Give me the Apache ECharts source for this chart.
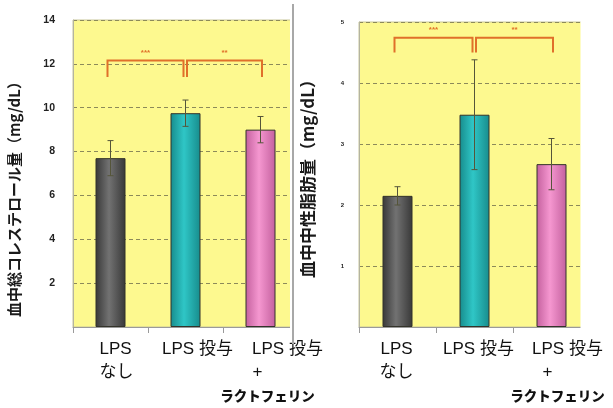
<!DOCTYPE html>
<html>
<head>
<meta charset="utf-8">
<script src="https://cdn.jsdelivr.net/npm/echarts@6/dist/echarts.min.js"></script>
<style>
  html, body { margin: 0; padding: 0; background: #ffffff; }
  #chart { width: 613px; height: 408px; }
</style>
</head>
<body>
<div id="chart"></div>
<script>
// Groups shown on both panels
const categories = ['LPS\nなし', 'LPS 投与', 'LPS 投与\n+\nラクトフェリン'];

// Total cholesterol in blood (mg/dL): mean and error
const cholMean = [7.7, 9.75, 9.0];
const cholErr = [0.8, 0.6, 0.6];

// Triglyceride in blood (mg/dL): mean and error
const tgMean = [2.15, 3.48, 2.67];
const tgErr = [0.15, 0.9, 0.42];

// Significance brackets: [from group, to group, bracket level, end level]
const cholBrackets = [[0, 1, 12.15, 11.4], [1, 2, 12.15, 11.4]];
const tgBrackets = [[0, 1, 4.74, 4.5], [1, 2, 4.74, 4.5]];
const sigLabels = ['***', '**'];

// Axis ranges and tick steps
const cholAxis = { min: 0, max: 14, interval: 2 };
const tgAxis = { min: 0, max: 5, interval: 1 };

const YELLOW = '#fdf98f';
const GRID_LINE = '#8c8a5a';
const BRACKET = '#e0702a';
const LABEL_FONT = '"Liberation Sans", "Noto Sans CJK JP", sans-serif';
const CJK_FONT = '"Noto Sans CJK JP", sans-serif';

function barGradient(edge, mid) {
  return new echarts.graphic.LinearGradient(0, 0, 1, 0, [
    { offset: 0, color: edge },
    { offset: 0.45, color: mid },
    { offset: 1, color: edge }
  ]);
}
const barColors = [
  barGradient('#383838', '#727272'),
  barGradient('#178c8c', '#2fc6c6'),
  barGradient('#c4609e', '#f597d0')
];

// per-line horizontal nudges for the group labels under each panel
function labelRich(shifts) {
  const rich = {};
  shifts.forEach((lines, i) => {
    lines.forEach((s, k) => {
      const heavy = (i === 2 && k === 2);
      rich['c' + i + '_' + k] = {
        fontFamily: heavy ? CJK_FONT : LABEL_FONT,
        fontSize: heavy ? 13.5 : 17,
        fontWeight: heavy ? 900 : 'normal',
        color: '#111',
        lineHeight: 23,
        padding: s >= 0 ? [0, 0, 0, 2 * s] : [0, -2 * s, 0, 0]
      };
    });
  });
  return rich;
}
function labelFormatter(value, index) {
  return value.split('\n').map((line, k) => '{c' + index + '_' + k + '|' + line + '}').join('\n');
}

function xAxisFor(gridIndex, shifts) {
  return {
    type: 'category', gridIndex: gridIndex, data: categories,
    axisLine: { show: true, lineStyle: { color: '#9a9a9a', width: 1 } },
    axisTick: { show: true, length: 6, lineStyle: { color: '#9a9a9a' } },
    axisLabel: {
      interval: 0, margin: 11, formatter: labelFormatter, rich: labelRich(shifts)
    }
  };
}

function yAxisFor(gridIndex, range, name, nameSize, nameGap, namePad, labelSize, labelMargin) {
  return {
    type: 'value', gridIndex: gridIndex,
    min: range.min, max: range.max, interval: range.interval,
    name: name, nameLocation: 'middle', nameRotate: 90, nameGap: nameGap,
    nameTextStyle: {
      fontFamily: CJK_FONT, fontSize: nameSize, fontWeight: 'bold', color: '#1a1a1a',
      padding: namePad
    },
    axisLine: { show: true, lineStyle: { color: '#b4b4a0' } },
    axisTick: { show: false },
    axisLabel: {
      margin: labelMargin, fontFamily: '"Liberation Sans", Arial, sans-serif',
      fontSize: labelSize, fontWeight: 'bold', color: '#222',
      formatter: v => (v === 0 ? '' : String(v))
    },
    splitLine: { show: true, lineStyle: { color: GRID_LINE, type: [4, 3], width: 1 } }
  };
}

function barSeries(axisIndex, means) {
  return {
    type: 'bar', xAxisIndex: axisIndex, yAxisIndex: axisIndex, barWidth: 30,
    data: means.map((v, i) => ({
      value: v,
      itemStyle: { color: barColors[i], borderColor: '#33332a', borderWidth: 1 }
    })),
    z: 2
  };
}

function errorSeries(axisIndex, means, errs) {
  return {
    type: 'custom', xAxisIndex: axisIndex, yAxisIndex: axisIndex, z: 5,
    data: means.map((m, i) => [i, m - errs[i], m + errs[i]]),
    renderItem(params, api) {
      const lo = api.coord([api.value(0), api.value(1)]);
      const hi = api.coord([api.value(0), api.value(2)]);
      const cap = 3;
      const st = { stroke: '#55553a', lineWidth: 1 };
      return {
        type: 'group',
        children: [
          { type: 'line', shape: { x1: hi[0], y1: hi[1], x2: lo[0], y2: lo[1] }, style: st },
          { type: 'line', shape: { x1: hi[0] - cap, y1: hi[1], x2: hi[0] + cap, y2: hi[1] }, style: st },
          { type: 'line', shape: { x1: lo[0] - cap, y1: lo[1], x2: lo[0] + cap, y2: lo[1] }, style: st }
        ]
      };
    }
  };
}

function bracketSeries(axisIndex, brackets) {
  return {
    type: 'custom', xAxisIndex: axisIndex, yAxisIndex: axisIndex, z: 6,
    data: brackets,
    renderItem(params, api) {
      const i = params.dataIndex;
      const a = api.coord([api.value(0), api.value(2)]);
      const b = api.coord([api.value(1), api.value(2)]);
      const yEnd = api.coord([api.value(0), api.value(3)])[1];
      const x1 = a[0] + (i === 0 ? -3 : 1.5);
      const x2 = b[0] + (i === 0 ? -2 : 1.5);
      return {
        type: 'group',
        children: [
          {
            type: 'polyline',
            shape: { points: [[x1, yEnd], [x1, a[1]], [x2, a[1]], [x2, yEnd]] },
            style: { stroke: BRACKET, lineWidth: 2, fill: null }
          },
          {
            type: 'text',
            style: {
              x: (x1 + x2) / 2, y: a[1] - 8, text: sigLabels[i],
              fill: BRACKET, fontSize: 8, fontWeight: 'bold',
              align: 'center', verticalAlign: 'middle'
            }
          }
        ]
      };
    }
  };
}

const chart = echarts.init(document.getElementById('chart'), null, { renderer: 'canvas' });

chart.setOption({
  animation: false,
  backgroundColor: '#ffffff',
  grid: [
    { left: 73, top: 20, width: 225, height: 307, show: true, backgroundColor: YELLOW,
      borderColor: '#c9c69a', borderWidth: 1 },
    { left: 359, top: 22, width: 231, height: 305, show: true, backgroundColor: YELLOW,
      borderColor: '#c9c69a', borderWidth: 1 }
  ],
  xAxis: [
    xAxisFor(0, [[5, 6], [12], [27, -3, 7]]),
    xAxisFor(1, [[-1, -1], [4], [16, -4, 6]])
  ],
  yAxis: [
    yAxisFor(0, cholAxis, '血中総コレステロール量（mg/dL）', 15, 51, [0, 44, 0, 0], 10.5, 18),
    yAxisFor(1, tgAxis, '血中中性脂肪量（mg/dL）', 17, 43, [0, 0, 0, 0], 6, 15)
  ],
  series: [
    barSeries(0, cholMean),
    errorSeries(0, cholMean, cholErr),
    bracketSeries(0, cholBrackets),
    barSeries(1, tgMean),
    errorSeries(1, tgMean, tgErr),
    bracketSeries(1, tgBrackets)
  ],
  graphic: [
    // trim the panels' right edges and draw the divider between them
    { type: 'rect', z: 100, shape: { x: 290, y: 14, width: 10, height: 322 },
      style: { fill: '#ffffff' } },
    { type: 'rect', z: 100, shape: { x: 580.5, y: 14, width: 33, height: 322 },
      style: { fill: '#ffffff' } },
    { type: 'line', z: 101, shape: { x1: 293, y1: 4, x2: 293, y2: 344 },
      style: { stroke: '#a8a8a8', lineWidth: 2 } }
  ]
});
</script>
</body>
</html>
